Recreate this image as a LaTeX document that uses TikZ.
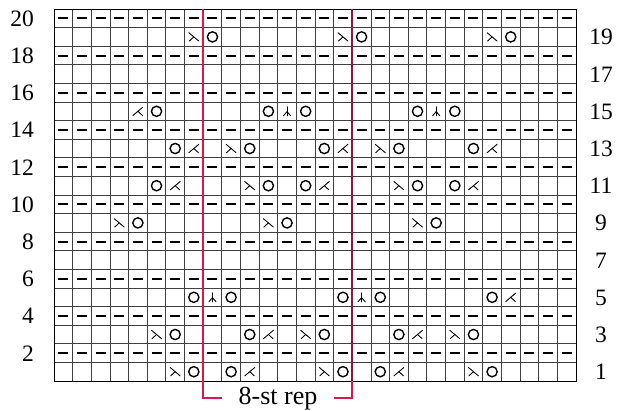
\documentclass[tikz,border=0pt]{standalone}
\usepackage{fontspec}
\setmainfont{Liberation Serif}
\definecolor{repred}{RGB}{218,24,76}
\definecolor{repdark}{RGB}{140,25,60}
\begin{document}
\begin{tikzpicture}[x=1pt,y=-1pt]
\useasboundingbox (0,0) rectangle (621,410);
\def\xo{54}\def\yo{9}\def\cw{18.643}\def\rh{18.6}
\tikzset{
  gridline/.style={draw=black!75, line width=0.8pt},
  border/.style={draw=black, line width=1pt},
  glyph/.style={draw=black, line width=0.9pt, line cap=round},
  purl/.pic={\draw[line width=2pt, black] (-5,0)--(5,0);},
  yo/.pic={\draw[line width=1.4pt, black] (0,0) circle (5.1);},
  ssk/.pic={\draw[glyph] (-5,-4.2)--(5,4.2); \draw[glyph] (0,0)--(-4.6,4.2);},
  ktog/.pic={\draw[glyph] (5,-4.2)--(-5,4.2); \draw[glyph] (0,0)--(4.6,4.2);},
  cdd/.pic={\draw[glyph] (0,-4.5)--(0,4.5); \draw[glyph] (-3.6,4.5) .. controls (-1.5,3) .. (0,0.3) .. controls (1.5,3) .. (3.6,4.5);},
  num/.style={font=\fontsize{23.5}{23.5}\selectfont, inner sep=0pt},
  lbl/.style={font=\fontsize{26}{26}\selectfont, inner sep=0pt},
  rep/.style={draw=repred, line width=1.9pt},
}
\newcommand\stc[3]{\pic at ({\xo+(#2+0.5)*\cw},{\yo+(20.5-#1)*\rh}) {#3};}
% grid
\foreach \c in {1,...,27} \draw[gridline] ({\xo+\c*\cw},\yo) -- ({\xo+\c*\cw},{\yo+20*\rh});
\foreach \r in {1,...,19} \draw[gridline] (\xo,{\yo+\r*\rh}) -- ({\xo+28*\cw},{\yo+\r*\rh});
\draw[border] (\xo,\yo) rectangle ({\xo+28*\cw},{\yo+20*\rh});
% purl rows (snapped to whole pixels)
\foreach \r in {2,4,...,20} \foreach \c in {0,...,27} {\pic at ({\xo+(\c+0.5)*\cw},{round(\yo+(20.5-\r)*\rh)}) {purl};}
% stitch symbols
\foreach \r/\c/\t in {
 19/7/ssk,19/8/yo,19/15/ssk,19/16/yo,19/23/ssk,19/24/yo,
 15/4/ktog,15/5/yo,15/11/yo,15/12/cdd,15/13/yo,15/19/yo,15/20/cdd,15/21/yo,
 13/6/yo,13/7/ktog,13/9/ssk,13/10/yo,13/14/yo,13/15/ktog,13/17/ssk,13/18/yo,13/22/yo,13/23/ktog,
 11/5/yo,11/6/ktog,11/10/ssk,11/11/yo,11/13/yo,11/14/ktog,11/18/ssk,11/19/yo,11/21/yo,11/22/ktog,
 9/3/ssk,9/4/yo,9/11/ssk,9/12/yo,9/19/ssk,9/20/yo,
 5/7/yo,5/8/cdd,5/9/yo,5/15/yo,5/16/cdd,5/17/yo,5/23/yo,5/24/ktog,
 3/5/ssk,3/6/yo,3/10/yo,3/11/ktog,3/13/ssk,3/14/yo,3/18/yo,3/19/ktog,3/21/ssk,3/22/yo,
 1/6/ssk,1/7/yo,1/9/yo,1/10/ktog,1/14/ssk,1/15/yo,1/17/yo,1/18/ktog,1/22/ssk,1/23/yo}
 {\stc{\r}{\c}{\t}}
% repeat bracket
\coordinate (lt) at ({\xo+8*\cw},\yo);
\coordinate (lb) at ({\xo+8*\cw},398);
\coordinate (le) at (222,398);
\coordinate (rt) at ({\xo+16*\cw},\yo);
\coordinate (rg) at ({\xo+16*\cw},{\yo+20*\rh});
\coordinate (rb) at ({\xo+16*\cw},398);
\coordinate (re) at (334,398);
\draw[rep] (lt) -- (lb) -- (le);
\draw[rep, draw=repdark] (rt) -- (rg);
\draw[rep] (rg) -- (rb) -- (re);
\node[lbl, anchor=base] (replbl) at (278,404.5) {8-st rep};
% row numbers
\foreach \r in {2,4,...,20} \node[num, anchor=base east] (n\r) at (34,{\yo+(20.5-\r)*\rh+7.9}) {\r};
\foreach \r in {1,3,...,19} \node[num, anchor=base] (n\r) at (601,{\yo+(20.5-\r)*\rh+7.9}) {\r};
\end{tikzpicture}
\end{document}
